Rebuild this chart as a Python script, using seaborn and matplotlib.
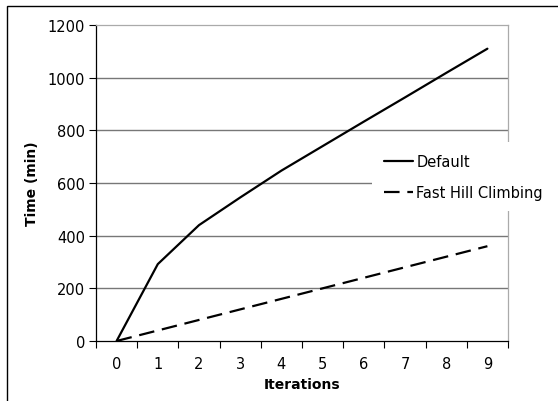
import numpy as np
import pandas as pd
import seaborn as sns
import matplotlib.pyplot as plt
from matplotlib.patches import Rectangle
from matplotlib.ticker import FixedLocator

iterations = [0, 1, 2, 3, 4, 5, 6, 7, 8, 9]
default_time = [0, 292, 440, 545, 647, 740, 833, 925, 1018, 1110]
fast_time = [0, 40, 80, 120, 160, 200, 240, 280, 320, 360]
series_names = ["Default", "Fast Hill Climbing"]
y_ticks = [0, 200, 400, 600, 800, 1000, 1200]

df = pd.DataFrame({
    "Iterations": iterations * 2,
    "Time (min)": default_time + fast_time,
    "series": [series_names[0]] * len(iterations) + [series_names[1]] * len(iterations),
})

sns.set_style("white")
plt.rcParams['font.family'] = ['DejaVu Sans']
plt.rcParams['text.color'] = 'black'
plt.rcParams['axes.labelcolor'] = 'black'
plt.rcParams['xtick.color'] = 'black'
plt.rcParams['ytick.color'] = 'black'

fig = plt.figure(figsize=(5.58, 4.02), dpi=100)
ax = fig.add_axes([96 / 558, 1 - 342 / 402, 412 / 558, 316 / 402])

sns.lineplot(data=df, x="Iterations", y="Time (min)", style="series",
             dashes={series_names[0]: "", series_names[1]: (7, 3.5)},
             color="black", linewidth=1.6, ax=ax, legend=True)

ax.set_xlim(-0.5, 9.5)
ax.set_ylim(0, 1200)
ax.set_yticks(y_ticks)
ax.set_xticks(iterations)
ax.xaxis.set_minor_locator(FixedLocator(np.arange(-0.5, 10, 1)))
ax.tick_params(axis="x", which="major", length=0, pad=11, labelsize=10.5, colors="black")
ax.tick_params(axis="x", which="minor", length=5, width=0.8, color="black", bottom=True)
ax.tick_params(axis="y", length=5, width=0.8, color="black", left=True, pad=3,
               labelsize=10.5, labelcolor="black")

for y in y_ticks[1:-1]:
    ax.axhline(y, color="#777777", linewidth=1.0, zorder=0)

ax.spines["left"].set_color("black")
ax.spines["bottom"].set_color("black")
ax.spines["top"].set_color("#aaaaaa")
ax.spines["right"].set_color("#aaaaaa")
for s in ax.spines.values():
    s.set_linewidth(0.9)

ax.set_xlabel("Iterations", fontweight="bold", fontsize=10, labelpad=4, color="black")
ax.set_ylabel("Time (min)", fontweight="bold", fontsize=10, labelpad=6, color="black")

leg = ax.legend(loc="upper left", bbox_to_anchor=(372 / 558, 1 - 143 / 402),
                bbox_transform=fig.transFigure, frameon=True, fontsize=10.5,
                handlelength=2.0, handletextpad=0.25, labelspacing=1.1,
                borderpad=0.8, borderaxespad=0)
leg.get_frame().set_facecolor("white")
leg.get_frame().set_edgecolor("white")
leg.get_frame().set_linewidth(0)
leg.get_frame().set_alpha(1)
leg.set_clip_on(False)
for t in leg.get_texts():
    t.set_color("black")

fig.patches.append(Rectangle((7 / 558, -0.1), 1.2, 1 - 7 / 402 + 0.1,
                             transform=fig.transFigure, fill=False,
                             edgecolor="black", linewidth=1))

fig.savefig("out.png", dpi=100)
